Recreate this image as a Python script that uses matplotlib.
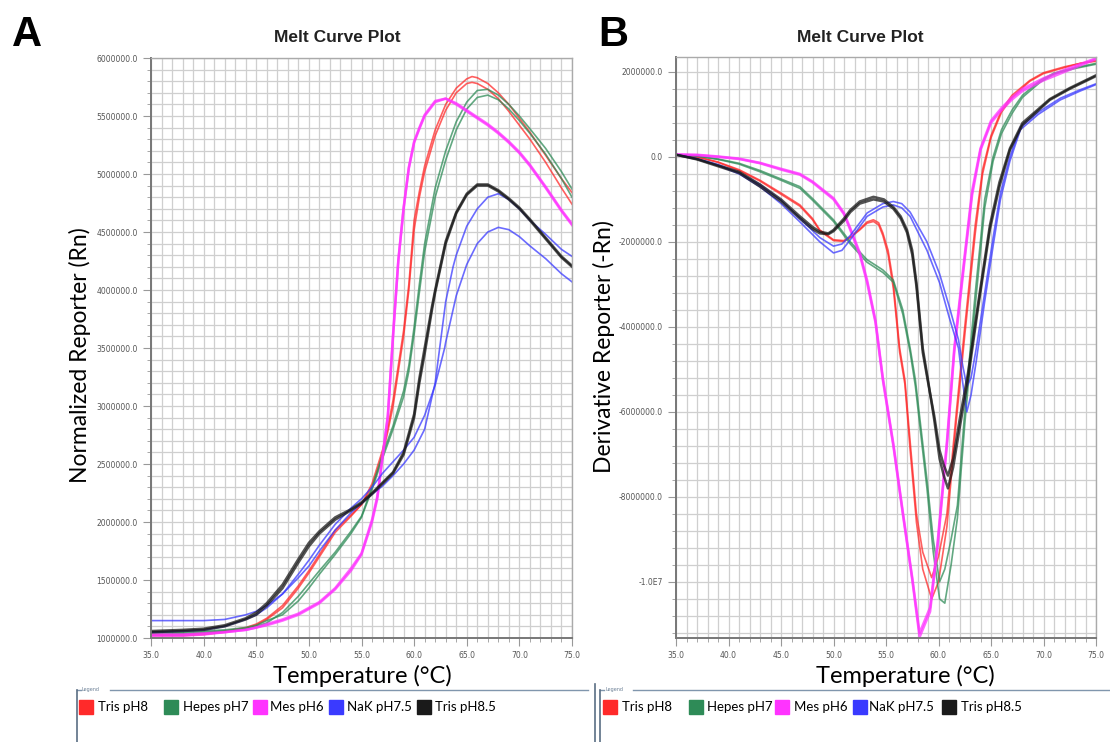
import matplotlib.pyplot as plt
import numpy as np
from matplotlib.ticker import MultipleLocator, FuncFormatter
from matplotlib.patches import Rectangle
from matplotlib.lines import Line2D

# ---------------- data (values in millions) ----------------
legend_labels = ['Tris pH8', 'Hepes pH7', 'Mes pH6', 'NaK pH7.5', 'Tris pH8.5']
colors = ['#ff2a2a', '#2e8b57', '#ff33ff', '#3a3aff', '#1a1a1a']

# panel A : normalized reporter
tA_red = [35, 38, 40, 42, 44, 45, 46, 47.5, 49, 50, 51, 52.5, 54, 55, 56, 57, 57.5, 58, 58.5, 59, 59.5,
          60, 60.5, 61, 62, 63, 64, 65, 65.5, 66, 67, 68, 69, 70, 71, 72.5, 74, 75]
red_a1 = [1.03, 1.03, 1.04, 1.06, 1.09, 1.12, 1.17, 1.28, 1.45, 1.58, 1.72, 1.93, 2.06, 2.15, 2.33, 2.62, 2.82,
          3.05, 3.35, 3.65, 4.05, 4.6, 4.85, 5.07, 5.38, 5.6, 5.74, 5.82, 5.84, 5.83, 5.78, 5.7, 5.6, 5.48,
          5.36, 5.16, 4.96, 4.84]
red_a2 = [1.02, 1.02, 1.03, 1.05, 1.08, 1.11, 1.16, 1.26, 1.43, 1.56, 1.7, 1.91, 2.05, 2.15, 2.3, 2.58, 2.78,
          3.0, 3.3, 3.6, 4.0, 4.52, 4.8, 5.02, 5.33, 5.55, 5.7, 5.78, 5.79, 5.78, 5.73, 5.65, 5.54, 5.42,
          5.3, 5.1, 4.88, 4.74]

tA_green = [35, 38, 40, 42, 44, 45, 46, 47.5, 49, 50, 51, 52.5, 54, 55, 56, 57, 58, 59, 59.5, 60, 60.5, 61,
            62, 63, 64, 65, 66, 67, 68, 69, 70, 71, 72.5, 74, 75]
green_a1 = [1.04, 1.04, 1.05, 1.06, 1.08, 1.1, 1.13, 1.22, 1.36, 1.47, 1.58, 1.74, 1.92, 2.05, 2.3, 2.58, 2.83,
            3.13, 3.35, 3.68, 4.05, 4.4, 4.88, 5.2, 5.45, 5.62, 5.72, 5.73, 5.68, 5.6, 5.5, 5.39, 5.22, 5.02, 4.87]
green_a2 = [1.05, 1.05, 1.06, 1.07, 1.09, 1.11, 1.15, 1.2, 1.32, 1.43, 1.55, 1.72, 1.9, 2.04, 2.28, 2.55, 2.8,
            3.08, 3.3, 3.62, 3.98, 4.33, 4.8, 5.12, 5.38, 5.56, 5.66, 5.68, 5.64, 5.56, 5.46, 5.35, 5.17, 4.96, 4.8]

tA_mes = [35, 38, 40, 42, 44, 45, 46, 47.5, 49, 50, 51, 52.5, 54, 55, 56, 56.5, 57, 57.5, 58, 58.5, 59,
          59.5, 60, 60.5, 61, 62, 63, 64, 65, 66, 67, 68, 69, 70, 71, 72.5, 74, 75]
mes_a1 = [1.02, 1.02, 1.03, 1.05, 1.07, 1.09, 1.11, 1.15, 1.2, 1.25, 1.3, 1.42, 1.58, 1.72, 2.0, 2.2, 2.55,
          2.9, 3.6, 4.25, 4.7, 5.05, 5.27, 5.39, 5.5, 5.62, 5.65, 5.6, 5.54, 5.48, 5.42, 5.35, 5.27, 5.18,
          5.07, 4.88, 4.68, 4.56]
mes_a2 = [1.03, 1.03, 1.04, 1.05, 1.07, 1.09, 1.12, 1.16, 1.21, 1.26, 1.31, 1.43, 1.6, 1.73, 2.02, 2.22, 2.57,
          2.92, 3.62, 4.26, 4.71, 5.06, 5.28, 5.4, 5.51, 5.63, 5.65, 5.61, 5.55, 5.49, 5.43, 5.36, 5.28, 5.19,
          5.08, 4.89, 4.69, 4.57]

tA_nak = [35, 38, 40, 42, 44, 45, 46, 47.5, 49, 50, 51, 52.5, 54, 55, 56, 57, 58, 59, 60, 61, 62, 62.9, 63,
          63.7, 64, 65, 66, 67, 68, 69, 70, 71, 72.5, 74, 75]
nak_a1 = [1.15, 1.15, 1.15, 1.16, 1.2, 1.23, 1.28, 1.38, 1.55, 1.67, 1.8, 1.98, 2.12, 2.2, 2.3, 2.42, 2.52,
          2.62, 2.73, 2.92, 3.18, 3.5, 3.55, 3.83, 3.95, 4.22, 4.4, 4.5, 4.54, 4.52, 4.46, 4.38, 4.27, 4.14, 4.07]
nak_a2 = [1.05, 1.06, 1.07, 1.1, 1.16, 1.2, 1.26, 1.38, 1.52, 1.62, 1.75, 1.93, 2.08, 2.16, 2.24, 2.31, 2.4,
          2.5, 2.62, 2.8, 3.2, 3.83, 3.9, 4.2, 4.3, 4.55, 4.7, 4.8, 4.83, 4.78, 4.7, 4.6, 4.48, 4.35, 4.29]

tA_tris85 = [35, 38, 40, 42, 44, 45, 46, 47.5, 49, 50, 51, 52.5, 54, 55, 56, 57, 58, 59, 60, 60.5, 61, 61.7,
             62, 63, 64, 65, 66, 67, 68, 69, 70, 71, 72.5, 74, 75]
tris85_a1 = [1.05, 1.06, 1.07, 1.1, 1.16, 1.2, 1.28, 1.43, 1.65, 1.79, 1.9, 2.02, 2.1, 2.16, 2.24, 2.33, 2.42,
             2.58, 2.9, 3.2, 3.45, 3.83, 3.98, 4.4, 4.66, 4.82, 4.9, 4.9, 4.85, 4.78, 4.7, 4.6, 4.44, 4.28, 4.2]
tris85_a2 = [1.06, 1.07, 1.08, 1.11, 1.17, 1.22, 1.3, 1.46, 1.68, 1.82, 1.92, 2.04, 2.11, 2.17, 2.25, 2.34, 2.43,
             2.6, 2.93, 3.24, 3.5, 3.86, 4.0, 4.42, 4.67, 4.83, 4.91, 4.91, 4.86, 4.79, 4.71, 4.61, 4.45, 4.29, 4.21]

# panel B : derivative reporter
tB_red = [35, 37, 39, 41, 43, 45, 46.8, 48, 48.7, 50, 51, 51.6, 52.5, 53.2, 53.8, 54.3, 54.7, 55.2, 55.7,
          56.3, 56.8, 57.3, 57.9, 58.5, 59.35, 60, 60.8, 61.7, 62.5, 63.5, 64.2, 65, 66, 67, 68.7, 70, 72, 73.5, 75]
red_b1 = [0.05, 0.0, -0.12, -0.3, -0.55, -0.85, -1.13, -1.45, -1.72, -1.95, -1.97, -1.88, -1.7, -1.53, -1.48,
          -1.55, -1.79, -2.2, -2.96, -4.5, -5.25, -6.7, -8.4, -9.3, -9.9, -9.4, -8.4, -6.0, -4.0, -1.6, -0.3,
          0.5, 1.1, 1.45, 1.8, 1.98, 2.12, 2.2, 2.27]
red_b2 = [0.05, 0.0, -0.13, -0.32, -0.57, -0.88, -1.16, -1.48, -1.74, -1.97, -1.99, -1.9, -1.72, -1.56, -1.52,
          -1.6, -1.85, -2.3, -3.1, -4.6, -5.35, -6.9, -8.6, -9.7, -10.4, -10.0, -8.7, -6.2, -4.2, -1.8, -0.4,
          0.45, 1.05, 1.4, 1.78, 1.96, 2.1, 2.2, 2.25]

tB_green = [35, 37, 39, 41, 43, 45, 46.8, 48, 50, 51.6, 53.2, 54.7, 55.7, 56.6, 57.3, 57.8, 58.9, 59.5, 60.1,
            60.6, 61.2, 61.8, 62.5, 63.5, 64.4, 65.2, 66, 67, 68, 69.7, 71, 73, 75]
green_b1 = [0.05, 0.02, -0.05, -0.15, -0.32, -0.52, -0.7, -0.98, -1.48, -2.0, -2.42, -2.66, -2.9, -3.6, -4.5,
            -5.25, -7.6, -9.0, -10.0, -9.7, -9.0, -8.2, -6.0, -3.2, -1.0, 0.0, 0.64, 1.1, 1.45, 1.8, 1.97, 2.1, 2.2]
green_b2 = [0.05, 0.02, -0.06, -0.17, -0.35, -0.55, -0.74, -1.02, -1.52, -2.05, -2.48, -2.72, -2.95, -3.7, -4.6,
            -5.4, -7.8, -9.3, -10.4, -10.5, -9.6, -8.5, -6.3, -3.5, -1.2, -0.1, 0.55, 1.02, 1.4, 1.76, 1.95, 2.08, 2.18]

tB_mes = [35, 37, 39, 41, 43, 45, 46.8, 48, 50, 51, 51.6, 52.5, 53.2, 54, 54.7, 55.7, 56.6, 57.5, 58.2, 58.7,
          59.2, 59.9, 60.8, 61.5, 62.5, 63.2, 64, 65, 66, 67, 68, 70, 72, 75]
mes_b1 = [0.05, 0.04, 0.0, -0.05, -0.15, -0.3, -0.42, -0.6, -1.0, -1.35, -1.72, -2.3, -2.96, -3.9, -5.25, -6.8,
          -8.4, -9.95, -11.3, -11.0, -10.7, -9.2, -6.8, -4.6, -2.4, -0.9, 0.16, 0.8, 1.1, 1.35, 1.55, 1.8, 2.0, 2.3]
mes_b2 = [0.06, 0.05, 0.01, -0.04, -0.14, -0.28, -0.4, -0.58, -0.97, -1.32, -1.68, -2.25, -2.9, -3.85, -5.2, -6.75,
          -8.35, -9.9, -11.2, -10.9, -10.6, -9.1, -6.7, -4.5, -2.3, -0.8, 0.2, 0.85, 1.15, 1.4, 1.6, 1.85, 2.05, 2.32]

tB_nak = [35, 37, 39, 41, 43, 45, 46.8, 48.7, 50, 50.8, 51.6, 53.2, 54.7, 55.7, 56.5, 57.3, 58.9, 60.1, 61,
          61.9, 62.3, 62.7, 63.1, 63.6, 64.4, 65.2, 65.9, 66.8, 67.8, 69.5, 71.6, 73.5, 75]
nak_b1 = [0.05, -0.05, -0.2, -0.4, -0.7, -1.1, -1.53, -2.0, -2.26, -2.2, -1.95, -1.4, -1.18, -1.13, -1.2, -1.4,
          -2.2, -2.96, -3.76, -4.5, -5.3, -6.0, -5.6, -4.8, -3.4, -2.1, -1.0, -0.1, 0.64, 1.0, 1.34, 1.55, 1.7]
nak_b2 = [0.05, -0.04, -0.18, -0.37, -0.65, -1.02, -1.45, -1.9, -2.1, -2.05, -1.85, -1.32, -1.1, -1.05, -1.1, -1.3,
          -2.0, -2.75, -3.5, -4.3, -4.9, -5.4, -5.2, -4.5, -3.2, -1.9, -0.85, 0.0, 0.7, 1.05, 1.38, 1.58, 1.72]

tB_tris85 = [35, 37, 39, 41, 43, 45, 46.8, 48, 48.7, 49.5, 50, 51, 51.6, 52.5, 53.8, 54.8, 55.7, 56.4, 57, 57.5,
             57.9, 58.5, 59, 59.6, 60.1, 60.5, 60.9, 61.4, 62, 62.8, 63.8, 64.9, 65.8, 66.8, 68, 70.6, 72.5, 75]
tris85_b1 = [0.05, -0.05, -0.2, -0.35, -0.65, -1.0, -1.4, -1.65, -1.76, -1.8, -1.72, -1.45, -1.25, -1.05, -0.94,
             -1.0, -1.18, -1.4, -1.72, -2.2, -2.96, -4.5, -5.25, -6.2, -7.1, -7.5, -7.8, -7.3, -6.4, -5.25, -3.5,
             -1.7, -0.7, 0.16, 0.75, 1.34, 1.6, 1.9]
tris85_b2 = [0.05, -0.06, -0.22, -0.38, -0.7, -1.05, -1.45, -1.7, -1.8, -1.82, -1.75, -1.5, -1.3, -1.1, -1.0,
             -1.05, -1.22, -1.45, -1.78, -2.3, -3.05, -4.6, -5.3, -6.1, -6.9, -7.25, -7.5, -7.1, -6.2, -5.1, -3.4,
             -1.6, -0.6, 0.2, 0.8, 1.36, 1.62, 1.92]

series_a = [(tA_red, red_a1, red_a2), (tA_green, green_a1, green_a2), (tA_mes, mes_a1, mes_a2),
            (tA_nak, nak_a1, nak_a2), (tA_tris85, tris85_a1, tris85_a2)]
series_b = [(tB_red, red_b1, red_b2), (tB_green, green_b1, green_b2), (tB_mes, mes_b1, mes_b2),
            (tB_nak, nak_b1, nak_b2), (tB_tris85, tris85_b1, tris85_b2)]

# ---------------- figure ----------------
W, H = 1110, 742
fig = plt.figure(figsize=(11.1, 7.42), dpi=100)


def fx(px):
    return px / W


def fy(py):
    return 1 - py / H


axA = fig.add_axes([fx(151), fy(638), fx(572) - fx(151), fy(58) - fy(638)])
axB = fig.add_axes([fx(676), fy(638), fx(1096) - fx(676), fy(57) - fy(638)])


def fmt(v, pos):
    if abs(v + 1e7) < 1:
        return '-1.0E7'
    if abs(v) < 1:
        v = 0.0
    return f'{v:.1f}'


def style(ax, ymaj, ymin):
    ax.set_xlim(35, 75)
    ax.xaxis.set_major_locator(MultipleLocator(5))
    ax.xaxis.set_minor_locator(MultipleLocator(1))
    ax.yaxis.set_major_locator(MultipleLocator(ymaj))
    ax.yaxis.set_minor_locator(MultipleLocator(ymin))
    ax.xaxis.set_major_formatter(FuncFormatter(lambda v, p: f'{v:.1f}'))
    ax.yaxis.set_major_formatter(FuncFormatter(fmt))
    ax.grid(True, which='both', color='#cfcfcf', lw=0.9)
    ax.set_axisbelow(True)
    ax.tick_params(which='both', labelsize=5.5, labelcolor='#555555', color='#999999', direction='out')
    ax.tick_params(which='major', length=6, width=0.8)
    ax.tick_params(which='minor', length=3, width=0.6)
    for s in ['top', 'right']:
        ax.spines[s].set_color('#aaaaaa')
        ax.spines[s].set_linewidth(1.0)
    for s in ['left', 'bottom']:
        ax.spines[s].set_color('#777777')
        ax.spines[s].set_linewidth(1.4)


style(axA, 500000, 100000)
axA.set_ylim(1e6, 6.0e6)
style(axB, 2000000, 400000)
axB.set_ylim(-11.32e6, 2.35e6)

for ax, series in [(axA, series_a), (axB, series_b)]:
    for (t, v1, v2), c in zip(series, colors):
        lw = 1.8 if c in ('#ff33ff', '#1a1a1a') else 1.2
        for v in (v1, v2):
            ax.plot(t, np.array(v) * 1e6, color=c, lw=lw, alpha=0.75, solid_joinstyle='round')

# ---------------- texts ----------------
sans = ['Lato', 'DejaVu Sans']
fig.text(fx(27), fy(35), 'A', fontsize=30, fontweight='bold', family='Liberation Sans', ha='center', va='center')
fig.text(fx(613), fy(35), 'B', fontsize=30, fontweight='bold', family='Liberation Sans', ha='center', va='center')
fig.text(fx(337), fy(37), 'Melt Curve Plot', fontsize=12.5, fontweight='bold', family='Liberation Sans',
         ha='center', va='center', color='#222222')
fig.text(fx(860), fy(37), 'Melt Curve Plot', fontsize=12.5, fontweight='bold', family='Liberation Sans',
         ha='center', va='center', color='#222222')
fig.text(fx(80), fy(355), 'Normalized Reporter (Rn)', fontsize=16.5, family=sans, rotation=90,
         ha='center', va='center')
fig.text(fx(604), fy(347), 'Derivative Reporter (-Rn)', fontsize=16.5, family=sans, rotation=90,
         ha='center', va='center')
fig.text(fx(362), fy(676), 'Temperature (°C)', fontsize=17, family=sans, ha='center', va='center')
fig.text(fx(905), fy(676), 'Temperature (°C)', fontsize=17, family=sans, ha='center', va='center')

# ---------------- legend boxes ----------------
frame_c = '#8096ad'


def legend_box(x0, x1, sq_x, txt_x, double=False):
    fig.add_artist(Line2D([fx(x0), fx(x0 + 4)], [fy(690), fy(690)], color=frame_c, lw=1))
    fig.add_artist(Line2D([fx(x0 + 33), fx(x1)], [fy(690), fy(690)], color=frame_c, lw=1))
    fig.add_artist(Line2D([fx(x0), fx(x0)], [fy(690), fy(742)], color='#5a6e84', lw=1.2))
    if double:
        fig.add_artist(Line2D([fx(x0 - 5), fx(x0 - 5)], [fy(684), fy(742)], color='#5a6e84', lw=1.2))
    fig.text(fx(x0 + 5), fy(690), 'Legend', fontsize=3.5, color='#6a7f95', va='center', ha='left')
    for sx, tx, c, lab in zip(sq_x, txt_x, colors, legend_labels):
        fig.add_artist(Rectangle((fx(sx), fy(714)), 14 / W, 14 / H, color=c, transform=fig.transFigure))
        fig.text(fx(tx), fy(707), lab, fontsize=9.5, family=sans, va='center', ha='left')


legend_box(77, 588, [79, 164, 253, 329, 417], [98, 183, 270, 347, 435])
legend_box(600, 1110, [603, 689, 775, 853, 942], [622, 707, 794, 869, 961], double=True)

fig.savefig('out.png', dpi=100)
